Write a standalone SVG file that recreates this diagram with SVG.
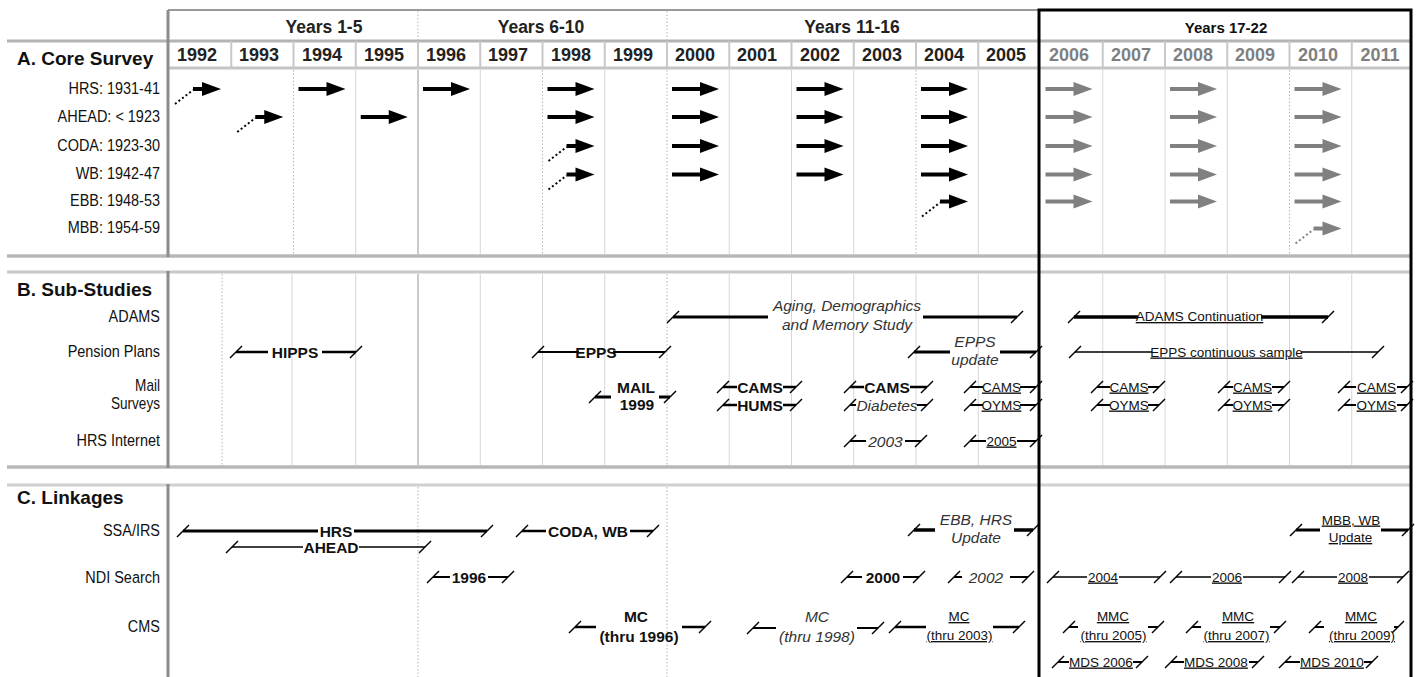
<svg xmlns="http://www.w3.org/2000/svg" width="1416" height="677" viewBox="0 0 1416 677">
<style>
text{font-family:"Liberation Sans",Arial,sans-serif;fill:#111}
.hd{font-weight:bold;font-size:17.5px;text-anchor:middle;fill:#222}
.yr{font-weight:bold;font-size:18px;text-anchor:middle;fill:#222}
.yg{fill:#7f7f7f}
.sec{font-weight:bold;font-size:19px}
.rl{font-size:17px;text-anchor:end}
.b{font-weight:bold;font-size:15.5px;text-anchor:middle}
.i{font-style:italic;font-size:15.5px;text-anchor:middle;fill:#333}
.u{font-size:13.5px;text-anchor:middle;text-decoration:underline}
.ln{fill:none;stroke:#000}
.vl{stroke:#d6d6d6;stroke-width:1}
.vd{stroke:#b5b5b5;stroke-width:1;stroke-dasharray:1.5 2}
.vg{stroke:#b8b8b8;stroke-width:1.5}
.hv{stroke:#c8c8c8;stroke-width:2}
.blk{fill:#000;stroke:#000}
.gry{fill:#808080;stroke:#808080}
</style>
<defs>
<path id="tk" d="M-6,6 L6,-6" stroke="#000" stroke-width="1.5" fill="none"/>
<g id="ar"><path d="M5,0 H35" stroke-width="4" fill="none"/><path d="M33,-7 L52,0 L33,7 Z" stroke="none"/></g>
<g id="ea"><path d="M6,15 L24,1" fill="none" stroke-width="2" stroke-dasharray="2 2.5"/><path d="M24,0 H35" stroke-width="4" fill="none"/><path d="M33,-7 L52,0 L33,7 Z" stroke="none"/></g>
</defs>

<g id="grid">
<path d="M168,10 H1039" stroke="#9a9a9a" stroke-width="2"/>
<path d="M7,41 H1411" stroke="#b4b4b4" stroke-width="3"/>
<path d="M168,68 H1411" stroke="#c4c4c4" stroke-width="3"/>
<path class="hv" d="M231.25,41V68 M293.5,41V68 M355.75,41V68 M418,41V68 M480.25,41V68 M542.5,41V68 M604.75,41V68 M667,41V68 M729.25,41V68 M791.5,41V68 M853.75,41V68 M916,41V68 M978.25,41V68 M1102.75,41V68 M1165,41V68 M1227.25,41V68 M1289.5,41V68 M1351.75,41V68"/>
<path class="vd" d="M418,11V40 M667,11V40"/>
<path d="M7,256 H1411" stroke="#b8b8b8" stroke-width="3.5"/>
<path d="M7,272 H1411" stroke="#c8c8c8" stroke-width="3"/>
<path d="M7,467 H1411" stroke="#b8b8b8" stroke-width="3.5"/>
<path d="M7,485 H1411" stroke="#d0d0d0" stroke-width="3"/>
<path class="vd" d="M293.5,70V254 M542.5,70V254 M667,70V254 M916,70V254 M1289.5,70V254"/>
<path class="vl" d="M355.75,70V254 M480.25,70V254 M604.75,70V254 M729.25,70V254 M791.5,70V254 M853.75,70V254 M978.25,70V254 M1102.75,70V254 M1165,70V254 M1227.25,70V254 M1351.75,70V254"/>
<path class="vg" d="M418,70V254 M418,274V465"/>
<path class="vd" d="M222,274V465 M667,274V465"/>
<path class="vl" d="M292,274V465 M355.75,274V465 M480.25,274V465 M542.5,274V465 M604.75,274V465 M729.25,274V465 M791.5,274V465 M853.75,274V465 M916,274V465 M978.25,274V465 M1102.75,274V465 M1165,274V465 M1227.25,274V465 M1289.5,274V465 M1351.75,274V465"/>
<path class="vd" d="M418,487V677 M667,487V677"/>
<path d="M168,10V257 M168,271V468 M168,484V677" stroke="#8c8c8c" stroke-width="3"/>
<path d="M1039,677 V10 H1411 V677" fill="none" stroke="#000" stroke-width="3"/>
</g>

<g id="header">
<text class="hd" x="324" y="33">Years 1-5</text>
<text class="hd" x="541" y="33">Years 6-10</text>
<text class="hd" x="852" y="33">Years 11-16</text>
<text class="hd" x="1226" y="33" style="font-size:15px;fill:#111">Years 17-22</text>
<text class="yr" x="197" y="61">1992</text>
<text class="yr" x="259" y="61">1993</text>
<text class="yr" x="322" y="61">1994</text>
<text class="yr" x="384" y="61">1995</text>
<text class="yr" x="446" y="61">1996</text>
<text class="yr" x="508" y="61">1997</text>
<text class="yr" x="571" y="61">1998</text>
<text class="yr" x="633" y="61">1999</text>
<text class="yr" x="695" y="61">2000</text>
<text class="yr" x="757" y="61">2001</text>
<text class="yr" x="820" y="61">2002</text>
<text class="yr" x="882" y="61">2003</text>
<text class="yr" x="944" y="61">2004</text>
<text class="yr" x="1006" y="61">2005</text>
<text class="yr yg" x="1069" y="61">2006</text>
<text class="yr yg" x="1131" y="61">2007</text>
<text class="yr yg" x="1193" y="61">2008</text>
<text class="yr yg" x="1255" y="61">2009</text>
<text class="yr yg" x="1318" y="61">2010</text>
<text class="yr yg" x="1380" y="61">2011</text>
<text class="sec" x="17" y="65">A. Core Survey</text>
<text class="sec" x="17" y="296">B. Sub-Studies</text>
<text class="sec" x="17" y="504">C. Linkages</text>
</g>

<g id="row-labels" transform="scale(0.85,1)">
<text class="rl" x="188.2" y="94.5">HRS: 1931-41</text>
<text class="rl" x="188.2" y="122.5">AHEAD: &lt; 1923</text>
<text class="rl" x="188.2" y="151">CODA: 1923-30</text>
<text class="rl" x="188.2" y="179.5">WB: 1942-47</text>
<text class="rl" x="188.2" y="206.5">EBB: 1948-53</text>
<text class="rl" x="188.2" y="233.5">MBB: 1954-59</text>
<text class="rl" x="188.2" y="322">ADAMS</text>
<text class="rl" x="188.2" y="357.5">Pension Plans</text>
<text class="rl" x="188.2" y="391" style="font-size:16px">Mail</text>
<text class="rl" x="188.2" y="409" style="font-size:16px">Surveys</text>
<text class="rl" x="188.2" y="446">HRS Internet</text>
<text class="rl" x="188.2" y="536">SSA/IRS</text>
<text class="rl" x="188.2" y="583.5">NDI Search</text>
<text class="rl" x="188.2" y="632">CMS</text>
</g>

<g id="connectors">
<use href="#ea" class="blk" x="169" y="89"/>
<use href="#ar" class="blk" x="293.5" y="89"/>
<use href="#ar" class="blk" x="418" y="89"/>
<use href="#ar" class="blk" x="542.5" y="89"/>
<use href="#ar" class="blk" x="667" y="89"/>
<use href="#ar" class="blk" x="791.5" y="89"/>
<use href="#ar" class="blk" x="916" y="89"/>
<use href="#ar" class="gry" x="1040.5" y="89"/>
<use href="#ar" class="gry" x="1165" y="89"/>
<use href="#ar" class="gry" x="1289.5" y="89"/>

<use href="#ea" class="blk" x="231.25" y="117"/>
<use href="#ar" class="blk" x="355.75" y="117"/>
<use href="#ar" class="blk" x="542.5" y="117"/>
<use href="#ar" class="blk" x="667" y="117"/>
<use href="#ar" class="blk" x="791.5" y="117"/>
<use href="#ar" class="blk" x="916" y="117"/>
<use href="#ar" class="gry" x="1040.5" y="117"/>
<use href="#ar" class="gry" x="1165" y="117"/>
<use href="#ar" class="gry" x="1289.5" y="117"/>

<use href="#ea" class="blk" x="542.5" y="146"/>
<use href="#ar" class="blk" x="667" y="146"/>
<use href="#ar" class="blk" x="791.5" y="146"/>
<use href="#ar" class="blk" x="916" y="146"/>
<use href="#ar" class="gry" x="1040.5" y="146"/>
<use href="#ar" class="gry" x="1165" y="146"/>
<use href="#ar" class="gry" x="1289.5" y="146"/>

<use href="#ea" class="blk" x="542.5" y="174.5"/>
<use href="#ar" class="blk" x="667" y="174.5"/>
<use href="#ar" class="blk" x="791.5" y="174.5"/>
<use href="#ar" class="blk" x="916" y="174.5"/>
<use href="#ar" class="gry" x="1040.5" y="174.5"/>
<use href="#ar" class="gry" x="1165" y="174.5"/>
<use href="#ar" class="gry" x="1289.5" y="174.5"/>

<use href="#ea" class="blk" x="916" y="201.5"/>
<use href="#ar" class="gry" x="1040.5" y="201.5"/>
<use href="#ar" class="gry" x="1165" y="201.5"/>
<use href="#ar" class="gry" x="1289.5" y="201.5"/>

<use href="#ea" class="gry" x="1289.5" y="228.5"/>
</g>

<g id="adams-aging"><path class="ln" stroke-width="3" d="M673,317 H768 M923,317 H1017"/><use href="#tk" x="673" y="317"/><use href="#tk" x="1017" y="317"/><text class="i" x="847" y="311">Aging, Demographics</text><text class="i" x="847" y="330">and Memory Study</text></g>
<g id="adams-continuation"><path class="ln" stroke-width="3.5" d="M1074,317 H1138 M1261,317 H1328"/><use href="#tk" x="1074" y="317"/><use href="#tk" x="1328" y="317"/><text class="u" x="1199.5" y="321">ADAMS Continuation</text></g>
<g id="hipps"><path class="ln" stroke-width="2.5" d="M236,352 H268 M322,352 H356"/><use href="#tk" x="236" y="352"/><use href="#tk" x="356" y="352"/><text class="b" x="295" y="357.5">HIPPS</text></g>
<g id="epps-1998"><path class="ln" stroke-width="2" d="M538,352 H579 M613,352 H665"/><use href="#tk" x="538" y="352"/><use href="#tk" x="665" y="352"/><text class="b" x="596" y="357.5">EPPS</text></g>
<g id="epps-update"><path class="ln" stroke-width="3" d="M914,352 H950 M1000,352 H1036"/><use href="#tk" x="914" y="352"/><use href="#tk" x="1036" y="352"/><text class="i" x="975" y="347">EPPS</text><text class="i" x="975" y="365">update</text></g>
<g id="epps-continuous"><path class="ln" stroke-width="1.5" d="M1075,352 H1152 M1301,352 H1378"/><use href="#tk" x="1075" y="352"/><use href="#tk" x="1378" y="352"/><text class="u" x="1226.5" y="356.5">EPPS continuous sample</text></g>
<g id="mail-1999"><path class="ln" stroke-width="3" d="M595,397 H611 M659,397 H670"/><use href="#tk" x="595" y="397"/><use href="#tk" x="670" y="397"/><text class="b" x="636" y="393">MAIL</text><text class="b" x="637" y="410">1999</text></g>
<g id="cams-2001"><path class="ln" stroke-width="2.5" d="M723,387 H737 M783,387 H796"/><use href="#tk" x="723" y="387"/><use href="#tk" x="796" y="387"/><text class="b" x="760" y="392.5">CAMS</text></g>
<g id="hums-2001"><path class="ln" stroke-width="2.5" d="M723,405 H737 M783,405 H796"/><use href="#tk" x="723" y="405"/><use href="#tk" x="796" y="405"/><text class="b" x="760" y="410.5">HUMS</text></g>
<g id="cams-2003"><path class="ln" stroke-width="2.5" d="M850,387 H864 M910,387 H927"/><use href="#tk" x="850" y="387"/><use href="#tk" x="927" y="387"/><text class="b" x="887" y="392.5">CAMS</text></g>
<g id="diabetes-2003"><path class="ln" stroke-width="2" d="M850,405 H856 M917,405 H927"/><use href="#tk" x="850" y="405"/><use href="#tk" x="927" y="405"/><text class="i" x="887" y="410.5">Diabetes</text></g>
<g id="cams-2005"><path class="ln" stroke-width="2" d="M970,387 H983 M1020,387 H1036"/><use href="#tk" x="970" y="387"/><use href="#tk" x="1036" y="387"/><text class="u" x="1001.5" y="391.5">CAMS</text></g>
<g id="oyms-2005"><path class="ln" stroke-width="2" d="M970,405 H983 M1020,405 H1036"/><use href="#tk" x="970" y="405"/><use href="#tk" x="1036" y="405"/><text class="u" x="1001.5" y="409.5">OYMS</text></g>
<g id="internet-2003"><path class="ln" stroke-width="2" d="M850,441 H866 M905,441 H921"/><use href="#tk" x="850" y="441"/><use href="#tk" x="921" y="441"/><text class="i" x="885.5" y="446.5">2003</text></g>
<g id="internet-2005"><path class="ln" stroke-width="2" d="M970,441 H986 M1017,441 H1036"/><use href="#tk" x="970" y="441"/><use href="#tk" x="1036" y="441"/><text class="u" x="1001.5" y="445.5">2005</text></g>
<g id="cams-2006"><path class="ln" stroke-width="2" d="M1097,387 H1110 M1148,387 H1159"/><use href="#tk" x="1097" y="387"/><use href="#tk" x="1159" y="387"/><text class="u" x="1129" y="391.5">CAMS</text></g>
<g id="oyms-2006"><path class="ln" stroke-width="2" d="M1097,405 H1110 M1148,405 H1159"/><use href="#tk" x="1097" y="405"/><use href="#tk" x="1159" y="405"/><text class="u" x="1129" y="409.5">OYMS</text></g>
<g id="cams-2008"><path class="ln" stroke-width="2" d="M1224,387 H1233 M1272,387 H1284"/><use href="#tk" x="1224" y="387"/><use href="#tk" x="1284" y="387"/><text class="u" x="1252.5" y="391.5">CAMS</text></g>
<g id="oyms-2008"><path class="ln" stroke-width="2" d="M1224,405 H1233 M1272,405 H1284"/><use href="#tk" x="1224" y="405"/><use href="#tk" x="1284" y="405"/><text class="u" x="1252.5" y="409.5">OYMS</text></g>
<g id="cams-2010"><path class="ln" stroke-width="2" d="M1344,387 H1356 M1397,387 H1407"/><use href="#tk" x="1344" y="387"/><use href="#tk" x="1407" y="387"/><text class="u" x="1376.5" y="391.5">CAMS</text></g>
<g id="oyms-2010"><path class="ln" stroke-width="2" d="M1344,405 H1356 M1397,405 H1407"/><use href="#tk" x="1344" y="405"/><use href="#tk" x="1407" y="405"/><text class="u" x="1376.5" y="409.5">OYMS</text></g>

<g id="ssa-hrs"><path class="ln" stroke-width="3" d="M183,531 H318 M354,531 H487"/><use href="#tk" x="183" y="531"/><use href="#tk" x="487" y="531"/><text class="b" x="336" y="536.5">HRS</text></g>
<g id="ssa-ahead"><path class="ln" stroke-width="1.5" d="M232,547 H303 M359,547 H425"/><use href="#tk" x="232" y="547"/><use href="#tk" x="425" y="547"/><text class="b" x="331" y="552.5">AHEAD</text></g>
<g id="ssa-coda-wb"><path class="ln" stroke-width="2.5" d="M522,531 H546 M630,531 H653"/><use href="#tk" x="522" y="531"/><use href="#tk" x="653" y="531"/><text class="b" x="588" y="536.5">CODA, WB</text></g>
<g id="ssa-ebb-hrs"><path class="ln" stroke-width="3.5" d="M914,530 H935 M1014,530 H1033"/><use href="#tk" x="914" y="530"/><use href="#tk" x="1033" y="530"/><text class="i" x="976" y="525">EBB, HRS</text><text class="i" x="976" y="543">Update</text></g>
<g id="ssa-mbb-wb"><path class="ln" stroke-width="3" d="M1296,530 H1320 M1381,530 H1408"/><use href="#tk" x="1296" y="530"/><use href="#tk" x="1408" y="530"/><text class="u" x="1351" y="524.5">MBB, WB</text><text class="u" x="1350.5" y="542">Update</text></g>
<g id="ndi-1996"><path class="ln" stroke-width="2" d="M433,577 H450 M488,577 H508"/><use href="#tk" x="433" y="577"/><use href="#tk" x="508" y="577"/><text class="b" x="469" y="582.5">1996</text></g>
<g id="ndi-2000"><path class="ln" stroke-width="2" d="M847,577 H862 M903,577 H919"/><use href="#tk" x="847" y="577"/><use href="#tk" x="919" y="577"/><text class="b" x="883" y="582.5">2000</text></g>
<g id="ndi-2002"><path class="ln" stroke-width="2" d="M954,577 H962 M1010,577 H1028"/><use href="#tk" x="954" y="577"/><use href="#tk" x="1028" y="577"/><text class="i" x="986" y="582.5">2002</text></g>
<g id="ndi-2004"><path class="ln" stroke-width="1.5" d="M1053,577 H1087 M1119,577 H1160"/><use href="#tk" x="1053" y="577"/><use href="#tk" x="1160" y="577"/><text class="u" x="1103" y="581.5">2004</text></g>
<g id="ndi-2006"><path class="ln" stroke-width="1.5" d="M1176,577 H1211 M1243,577 H1285"/><use href="#tk" x="1176" y="577"/><use href="#tk" x="1285" y="577"/><text class="u" x="1227" y="581.5">2006</text></g>
<g id="ndi-2008"><path class="ln" stroke-width="1.5" d="M1298,577 H1337 M1369,577 H1403"/><use href="#tk" x="1298" y="577"/><use href="#tk" x="1403" y="577"/><text class="u" x="1353" y="581.5">2008</text></g>
<g id="cms-mc-1996"><path class="ln" stroke-width="2.5" d="M575,627 H596 M682,627 H705"/><use href="#tk" x="575" y="627"/><use href="#tk" x="705" y="627"/><text class="b" x="636" y="622">MC</text><text class="b" x="639" y="642">(thru 1996)</text></g>
<g id="cms-mc-1998"><path class="ln" stroke-width="2" d="M753,628 H776 M857,628 H878"/><use href="#tk" x="753" y="628"/><use href="#tk" x="878" y="628"/><text class="i" x="817" y="622">MC</text><text class="i" x="817" y="642">(thru 1998)</text></g>
<g id="cms-mc-2003"><path class="ln" stroke-width="2.5" d="M895,627 H926 M993,627 H1019"/><use href="#tk" x="895" y="627"/><use href="#tk" x="1019" y="627"/><text class="u" x="959" y="621">MC</text><text class="u" x="959.5" y="640">(thru 2003)</text></g>
<g id="cms-mmc-2005"><path class="ln" stroke-width="2" d="M1069,627 H1078 M1148,627 H1158"/><use href="#tk" x="1069" y="627"/><use href="#tk" x="1158" y="627"/><text class="u" x="1113" y="621">MMC</text><text class="u" x="1113.5" y="640">(thru 2005)</text></g>
<g id="cms-mmc-2007"><path class="ln" stroke-width="2" d="M1192,627 H1201 M1270,627 H1280"/><use href="#tk" x="1192" y="627"/><use href="#tk" x="1280" y="627"/><text class="u" x="1238" y="621">MMC</text><text class="u" x="1236.5" y="640">(thru 2007)</text></g>
<g id="cms-mmc-2009"><path class="ln" stroke-width="2" d="M1315,627 H1324 M1394,627 H1398"/><use href="#tk" x="1315" y="627"/><use href="#tk" x="1398" y="627"/><text class="u" x="1361" y="621">MMC</text><text class="u" x="1362" y="640">(thru 2009)</text></g>
<g id="mds-2006"><path class="ln" stroke-width="2" d="M1058,662 H1069 M1133,662 H1142"/><use href="#tk" x="1058" y="662"/><use href="#tk" x="1142" y="662"/><text class="u" x="1101" y="666.5">MDS 2006</text></g>
<g id="mds-2008"><path class="ln" stroke-width="2" d="M1171,662 H1184 M1249,662 H1258"/><use href="#tk" x="1171" y="662"/><use href="#tk" x="1258" y="662"/><text class="u" x="1216" y="666.5">MDS 2008</text></g>
<g id="mds-2010"><path class="ln" stroke-width="2" d="M1285,662 H1300 M1364,662 H1372"/><use href="#tk" x="1285" y="662"/><use href="#tk" x="1372" y="662"/><text class="u" x="1332" y="666.5">MDS 2010</text></g>
</svg>
